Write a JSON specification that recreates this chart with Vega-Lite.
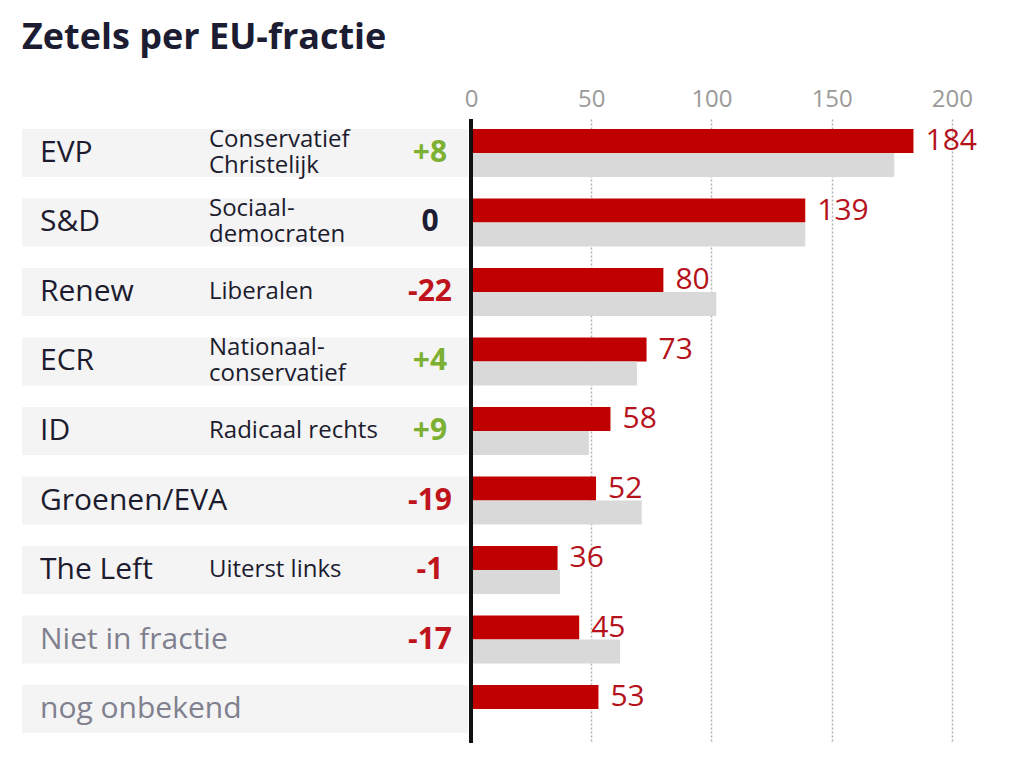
{
  "$schema": "https://vega.github.io/schema/vega-lite/v6.json",
  "padding": {"left": 22, "top": 20, "right": 10, "bottom": 10},
  "background": "white",
  "config": {"font": "Open Sans", "view": {"stroke": null}},
  "title": {"text": "Zetels per EU-fractie", "anchor": "start", "fontSize": 36, "fontWeight": "bold", "color": "#1c1c33", "font": "Open Sans", "offset": 30, "frame": "group"},
  "datasets": {
    "parties": [
      {"party": "EVP", "desc": "Conservatief\nChristelijk", "change": "+8", "kind": "fractie"},
      {"party": "S&D", "desc": "Sociaal-\ndemocraten", "change": "0", "kind": "fractie"},
      {"party": "Renew", "desc": "Liberalen", "change": "-22", "kind": "fractie"},
      {"party": "ECR", "desc": "Nationaal-\nconservatief", "change": "+4", "kind": "fractie"},
      {"party": "ID", "desc": "Radicaal rechts", "change": "+9", "kind": "fractie"},
      {"party": "Groenen/EVA", "desc": "", "change": "-19", "kind": "fractie"},
      {"party": "The Left", "desc": "Uiterst links", "change": "-1", "kind": "fractie"},
      {"party": "Niet in fractie", "desc": "", "change": "-17", "kind": "overig"},
      {"party": "nog onbekend", "desc": "", "change": "", "kind": "overig"}
    ],
    "seats": [
      {"party": "EVP", "year": "2024", "seats": 184},
      {"party": "EVP", "year": "2019", "seats": 176},
      {"party": "S&D", "year": "2024", "seats": 139},
      {"party": "S&D", "year": "2019", "seats": 139},
      {"party": "Renew", "year": "2024", "seats": 80},
      {"party": "Renew", "year": "2019", "seats": 102},
      {"party": "ECR", "year": "2024", "seats": 73},
      {"party": "ECR", "year": "2019", "seats": 69},
      {"party": "ID", "year": "2024", "seats": 58},
      {"party": "ID", "year": "2019", "seats": 49},
      {"party": "Groenen/EVA", "year": "2024", "seats": 52},
      {"party": "Groenen/EVA", "year": "2019", "seats": 71},
      {"party": "The Left", "year": "2024", "seats": 36},
      {"party": "The Left", "year": "2019", "seats": 37},
      {"party": "Niet in fractie", "year": "2024", "seats": 45},
      {"party": "Niet in fractie", "year": "2019", "seats": 62},
      {"party": "nog onbekend", "year": "2024", "seats": 53}
    ]
  },
  "bounds": "flush",
  "spacing": 3,
  "hconcat": [
    {
      "width": 446,
      "height": 624,
      "data": {"name": "parties"},
      "encoding": {
        "y": {"field": "party", "type": "nominal", "axis": null,
          "scale": {"domain": ["EVP", "S&D", "Renew", "ECR", "ID", "Groenen/EVA", "The Left", "Niet in fractie", "nog onbekend"], "paddingInner": 0.31, "paddingOuter": 0.144}}
      },
      "layer": [
        {"mark": {"type": "rect", "color": "#f4f4f4"},
         "encoding": {"x": {"value": 0}, "x2": {"value": "width"}}},
        {"mark": {"type": "text", "align": "left", "baseline": "middle", "fontSize": 30},
         "encoding": {"x": {"value": 18}, "text": {"field": "party"},
           "color": {"condition": {"test": "datum.kind === 'overig'", "value": "#80808e"}, "value": "#1c1c2e"}}},
        {"transform": [{"filter": "indexof(datum.desc, '\\n') >= 0"}],
         "mark": {"type": "text", "align": "left", "baseline": "middle", "fontSize": 24, "lineBreak": "\n", "lineHeight": 26, "dy": -13, "color": "#1c1c2e"},
         "encoding": {"x": {"value": 187}, "text": {"field": "desc"}}},
        {"transform": [{"filter": "indexof(datum.desc, '\\n') < 0"}],
         "mark": {"type": "text", "align": "left", "baseline": "middle", "fontSize": 24, "color": "#1c1c2e"},
         "encoding": {"x": {"value": 187}, "text": {"field": "desc"}}},
        {"mark": {"type": "text", "align": "center", "baseline": "middle", "fontSize": 30, "fontWeight": "bold"},
         "encoding": {"x": {"value": 408}, "text": {"field": "change"},
           "color": {"condition": [
             {"test": "toNumber(datum.change) > 0", "value": "#7cb032"},
             {"test": "toNumber(datum.change) < 0", "value": "#c0141c"}
           ], "value": "#1c1c33"}}}
      ]
    },
    {
      "width": 505,
      "height": 624,
      "data": {"name": "seats"},
      "layer": [
        {"mark": {"type": "bar"},
         "encoding": {
           "y": {"field": "party", "type": "nominal", "axis": null,
             "scale": {"domain": ["EVP", "S&D", "Renew", "ECR", "ID", "Groenen/EVA", "The Left", "Niet in fractie", "nog onbekend"], "paddingInner": 0.31, "paddingOuter": 0.144}},
           "yOffset": {"field": "year", "type": "nominal", "scale": {"domain": ["2024", "2019"], "paddingInner": 0, "paddingOuter": 0}},
           "x": {"field": "seats", "type": "quantitative", "scale": {"domain": [0, 210], "nice": false},
             "axis": {"orient": "top", "values": [0, 50, 100, 150, 200], "title": null, "domain": false, "ticks": false,
               "labelFontSize": 24, "labelColor": "#9a9a9a", "labelPadding": 8, "labelFont": "Open Sans", "labelFlush": false,
               "grid": true, "gridColor": "#b0b0b0", "gridDash": [2, 2], "gridWidth": 1.5}},
           "color": {"field": "year", "type": "nominal", "legend": null,
             "scale": {"domain": ["2024", "2019"], "range": ["#c00000", "#d9d9d9"]}}
         }},
        {"transform": [{"filter": "datum.year === '2024'"}],
         "mark": {"type": "text", "align": "left", "baseline": "middle", "dx": 12, "fontSize": 30, "color": "#b5121b"},
         "encoding": {
           "y": {"field": "party", "type": "nominal"},
           "yOffset": {"field": "year", "type": "nominal"},
           "x": {"field": "seats", "type": "quantitative"}, "text": {"field": "seats", "type": "quantitative"}}},
        {"mark": {"type": "rule", "color": "#111111", "strokeWidth": 2.5},
         "encoding": {"x": {"datum": 0}}}
      ]
    }
  ]
}
